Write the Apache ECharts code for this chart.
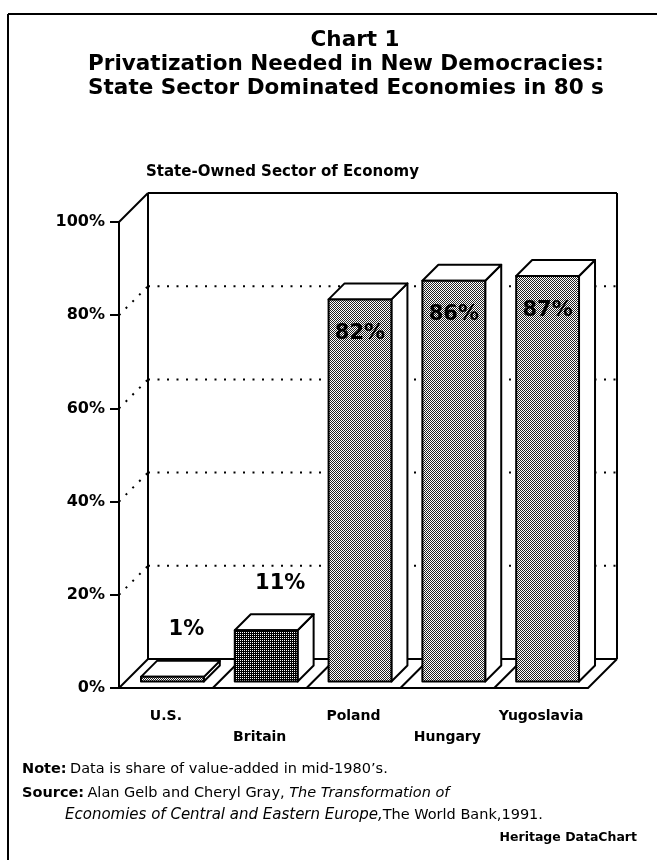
<!DOCTYPE html>
<html><head><meta charset="utf-8">
<script src="https://cdn.jsdelivr.net/npm/echarts@6/dist/echarts.min.js"></script>
<style>html,body{margin:0;padding:0;background:#fff}#c{width:657px;height:860px}</style>
</head><body><div id="c"></div>
<script>
// ---- data ----
const categories = ['U.S.', 'Britain', 'Poland', 'Hungary', 'Yugoslavia'];
const stateShare = [1, 11, 82, 86, 87];
const yTicks = [0, 20, 40, 60, 80, 100];
const titleLines = ['Chart 1', 'Privatization Needed in New Democracies:', 'State Sector Dominated Economies in 80 s'];
const subtitle = 'State-Owned Sector of Economy';

// ---- style ----
const FONT = '"DejaVu Sans", Verdana, sans-serif';
const WALL_D = 29;      // depth of the box
const BAR_D0 = 6.5;     // bar set back from front
const BAR_D = 16;       // bar depth
const BAR_RATIO = 0.67;

function makePattern(dark) {
  const c = document.createElement('canvas');
  c.width = 2; c.height = 2;
  const g = c.getContext('2d');
  g.fillStyle = '#fff'; g.fillRect(0, 0, 2, 2);
  g.fillStyle = '#000';
  if (dark) { g.fillRect(0, 0, 2, 2); g.fillStyle = '#fff'; g.fillRect(0, 0, 1, 1); }
  else { g.fillStyle = '#222'; g.fillRect(0, 0, 1, 1); g.fillRect(1, 1, 1, 1); }
  return { image: c, repeat: 'repeat' };
}
const lightPat = makePattern(false);
const darkPat = makePattern(true);

const chart = echarts.init(document.getElementById('c'), null, { renderer: 'canvas' });

function line(x1, y1, x2, y2, dashed) {
  return {
    type: 'line', shape: { x1, y1, x2, y2 },
    style: { stroke: '#000', lineWidth: 2, lineDash: dashed ? [2, 7.5] : null }
  };
}

const option = {
  animation: false,
  backgroundColor: '#fff',
  grid: { left: 119, top: 222, width: 469, height: 466 },
  xAxis: {
    type: 'category', data: categories,
    axisLine: { lineStyle: { color: '#000', width: 2 } },
    axisTick: { alignWithLabel: true, length: 7, lineStyle: { color: '#000', width: 2 } },
    axisLabel: {
      interval: 0, color: '#000', fontFamily: FONT, fontWeight: 'bold', fontSize: 14,
      lineHeight: 21, margin: 18,
      formatter: (v, i) => (i % 2 ? '\n' + v : v)
    }
  },
  yAxis: {
    type: 'value', min: 0, max: 100, interval: 20,
    axisLine: { show: true, lineStyle: { color: '#000', width: 2 } },
    axisTick: { show: true, length: 9, lineStyle: { color: '#000', width: 2 } },
    axisLabel: { color: '#000', fontFamily: FONT, fontWeight: 'bold', fontSize: 16, margin: 14, formatter: '{value}%' },
    splitLine: { show: false }
  },
  series: [
    {
      type: 'custom', name: 'walls', z: 1, silent: true, clip: false,
      data: yTicks.map(v => [0, v]),
      renderItem: function (params, api) {
        const cs = params.coordSys;
        const x0 = cs.x, x1 = cs.x + cs.width;
        const v = api.value(1);
        const y = api.coord([0, v])[1];
        const yZero = api.coord([0, 0])[1];
        const D = WALL_D;
        const kids = [];
        if (v === 0) {
          kids.push(line(x0 + D, y - D, x1 + D, y - D));
          kids.push(line(x0, y, x0 + D, y - D));
          kids.push(line(x1, y, x1 + D, y - D));
          const n = categories.length;
          for (let k = 1; k < n; k++) {
            const xk = x0 + k * cs.width / n;
            kids.push(line(xk, y, xk + D, y - D));
          }
        } else if (v === 100) {
          kids.push(line(x0, y, x0 + D, y - D));
          kids.push(line(x0 + D, y - D, x1 + D, y - D));
          kids.push(line(x0 + D, y - D, x0 + D, yZero - D));
          kids.push(line(x1 + D, y - D, x1 + D, yZero - D));
        } else {
          kids.push(line(x0, y, x0 + D, y - D, true));
          kids.push(line(x0 + D, y - D, x1 + D, y - D, true));
        }
        return { type: 'group', children: kids };
      }
    },
    {
      type: 'custom', name: 'State-owned share', z: 5, clip: false,
      data: stateShare.map((v, i) => [i, v]),
      renderItem: function (params, api) {
        const i = api.value(0), v = api.value(1);
        const top = api.coord([i, v]);
        const base = api.coord([i, 0]);
        const band = api.size([1, 0])[0];
        const bw = band * BAR_RATIO;
        const xl = top[0] - bw / 2 + BAR_D0, xr = xl + bw;
        const yt = top[1] - BAR_D0, yb = base[1] - BAR_D0;
        const B = BAR_D;
        const stroke = { stroke: '#000', lineWidth: 2, lineJoin: 'round' };
        const fill = i === 1 ? darkPat : lightPat;
        const kids = [
          { type: 'polygon', shape: { points: [[xr, yt], [xr + B, yt - B], [xr + B, yb - B], [xr, yb]] }, style: Object.assign({ fill: '#fff' }, stroke) },
          { type: 'polygon', shape: { points: [[xl, yt], [xl + B, yt - B], [xr + B, yt - B], [xr, yt]] }, style: Object.assign({ fill: '#fff' }, stroke) },
          { type: 'rect', shape: { x: xl, y: yt, width: bw, height: yb - yt }, style: Object.assign({ fill: fill }, stroke) }
        ];
        const inside = v > 50;
        kids.push({
          type: 'text', z2: 10,
          style: {
            text: v + '%',
            x: inside ? xl + bw / 2 : xl + bw / 2 + 14,
            y: inside ? yt + 34 : yt - B - 31,
            align: 'center', verticalAlign: 'middle',
            font: 'bold 21px ' + FONT, fill: '#000'
          }
        });
        return { type: 'group', children: kids };
      }
    }
  ],
  graphic: [
    { type: 'line', shape: { x1: 8, y1: 14, x2: 657, y2: 14 }, style: { stroke: '#000', lineWidth: 2 } },
    { type: 'line', shape: { x1: 8, y1: 14, x2: 8, y2: 860 }, style: { stroke: '#000', lineWidth: 2 } },
    { type: 'text', x: 355, y: 40, style: { text: titleLines[0], align: 'center', verticalAlign: 'middle', font: 'bold 21.5px ' + FONT, fill: '#000' } },
    { type: 'text', x: 346, y: 64, style: { text: titleLines[1], align: 'center', verticalAlign: 'middle', font: 'bold 21.5px ' + FONT, fill: '#000' } },
    { type: 'text', x: 346, y: 88, style: { text: titleLines[2], align: 'center', verticalAlign: 'middle', font: 'bold 21.5px ' + FONT, fill: '#000' } },
    { type: 'text', x: 146, y: 172, style: { text: subtitle, align: 'left', verticalAlign: 'middle', font: 'bold 15px ' + FONT, fill: '#000' } },
    { type: 'text', x: 22, y: 769, style: {
      text: '{b|Note:} {n|Data is share of value-added in mid-1980\u2019s.}', verticalAlign: 'middle',
      rich: { b: { font: 'bold 14.5px ' + FONT, fill: '#000' }, n: { font: '14.5px ' + FONT, fill: '#000' } } } },
    { type: 'text', x: 22, y: 793, style: {
      text: '{b|Source:} {n|Alan Gelb and Cheryl Gray, }{i|The Transformation of}', verticalAlign: 'middle',
      rich: { b: { font: 'bold 14.5px ' + FONT, fill: '#000' }, n: { font: '14.5px ' + FONT, fill: '#000' }, i: { font: 'italic 14.5px ' + FONT, fill: '#000' } } } },
    { type: 'text', x: 65, y: 815, style: {
      text: '{i|Economies of Central and Eastern Europe,}{n|The World Bank,1991.}', verticalAlign: 'middle',
      rich: { n: { font: '14.5px ' + FONT, fill: '#000' }, i: { font: 'italic 15px ' + FONT, fill: '#000' } } } },
    { type: 'text', x: 637, y: 838, style: { text: 'Heritage DataChart', align: 'right', verticalAlign: 'middle', font: 'bold 12.5px ' + FONT, fill: '#000' } }
  ]
};
chart.setOption(option);
</script>
</body></html>
